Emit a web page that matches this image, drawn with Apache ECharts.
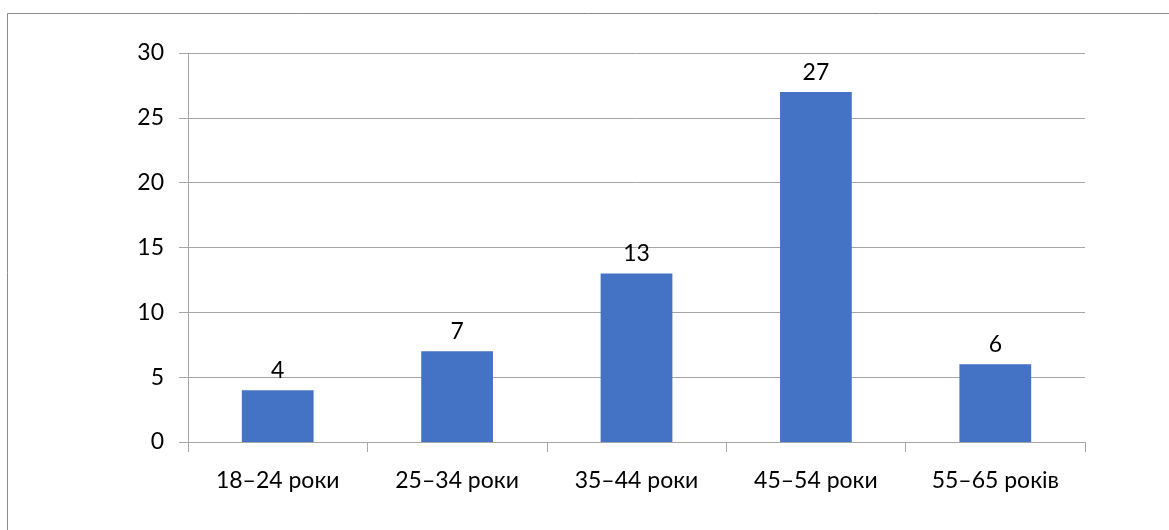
<!DOCTYPE html>
<html>
<head>
<meta charset="utf-8">
<script src="https://cdn.jsdelivr.net/npm/echarts@6/dist/echarts.min.js"></script>
<style>
html,body{margin:0;padding:0;background:#fff;}
#c{width:1169px;height:530px;}
</style>
</head>
<body>
<div id="c"></div>
<script>
const categories = ['18–24 роки', '25–34 роки', '35–44 роки', '45–54 роки', '55–65 років'];
const values = [4, 7, 13, 27, 6];
const yTicks = { min: 0, max: 30, interval: 5 };

const chart = echarts.init(document.getElementById('c'), null, { renderer: 'canvas' });
const font = 'Lato, "Noto Sans", sans-serif';
chart.setOption({
  animation: false,
  backgroundColor: '#ffffff',
  graphic: [{
    type: 'rect',
    shape: { x: 7.5, y: 13.5, width: 1300, height: 700 },
    style: { fill: 'none', stroke: '#8c8c8c', lineWidth: 1 },
    silent: true, z: -1
  }],
  grid: { left: 188, right: 84, top: 53, bottom: 88, containLabel: false },
  xAxis: {
    type: 'category',
    data: categories,
    axisLine: { show: true, lineStyle: { color: '#a6a6a6', width: 1 } },
    axisTick: { show: true, alignWithLabel: false, length: 10, lineStyle: { color: '#a6a6a6' } },
    axisLabel: { color: '#000', fontSize: 23, fontFamily: font, margin: 27 },
    splitLine: { show: false }
  },
  yAxis: {
    type: 'value',
    min: yTicks.min, max: yTicks.max, interval: yTicks.interval,
    axisLine: { show: true, lineStyle: { color: '#a6a6a6', width: 1 } },
    axisTick: { show: true, length: 9, lineStyle: { color: '#a6a6a6' } },
    axisLabel: { color: '#000', fontSize: 23, fontFamily: font, margin: 24 },
    splitLine: { show: true, lineStyle: { color: '#a6a6a6', width: 1 } }
  },
  series: [{
    type: 'bar',
    data: values,
    barWidth: '40%',
    itemStyle: { color: '#4472C4' },
    label: { show: true, position: 'top', distance: 8, color: '#000', fontSize: 23, fontFamily: font }
  }]
});
</script>
</body>
</html>
